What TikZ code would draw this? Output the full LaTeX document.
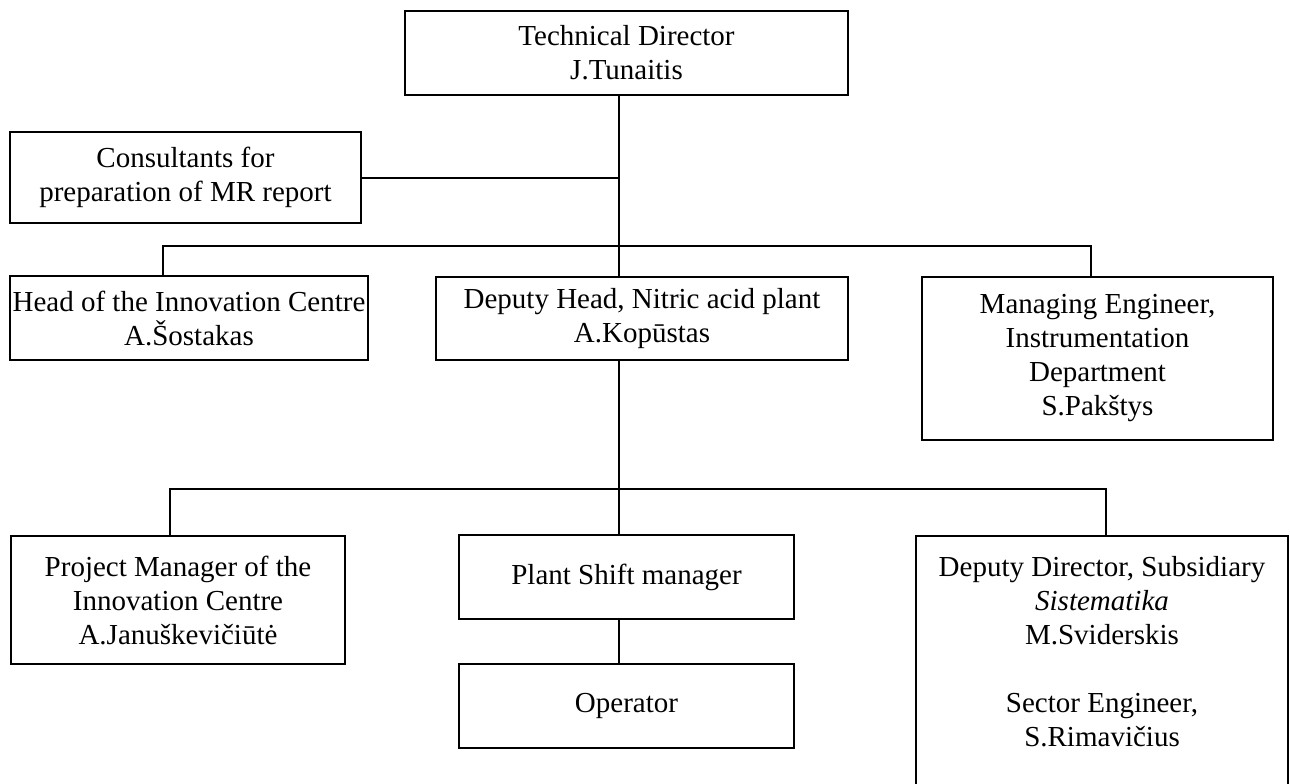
\documentclass[tikz,border=0pt]{standalone}
\usepackage{fontspec}
\setmainfont{Liberation Serif}
\usetikzlibrary{positioning}
\tikzset{
	box/.style={draw, line width=0.8pt, fill=white, align=center, inner sep=0pt,
		font=\fontsize{11.6}{13.6}\selectfont},
	link/.style={line width=0.8pt}
}
\begin{document}
\begin{tikzpicture}[x=0.4pt, y=-0.4pt]
	\useasboundingbox (0,0) rectangle (1290,783);
	\def\trunk{619};
	\def\busa{246};
	\def\busb{489};
	
	\node[box, minimum width=177.2pt, minimum height=33.6pt] (td) at (626.5,53) {Technical Director\\J.Tunaitis};
	\node[box, minimum width=140.4pt, minimum height=36.4pt] (cons) at (185.5,177.5) {Consultants for\\preparation of MR report};
	\node[box, minimum width=143.2pt, minimum height=33.6pt] (head) at (189,318) {Head of the Innovation Centre\\A.Šostakas};
	\node[box, minimum width=164.8pt, minimum height=33.2pt] (dep) at (642,318.5) {Deputy Head, Nitric acid plant\\A.Kopūstas};
	\node[box, minimum width=140.4pt, minimum height=65.2pt] (man) at (1097.5,358.5) {Managing Engineer,\\Instrumentation\\Department\\S.Pakštys};
	\node[box, minimum width=133.6pt, minimum height=51.2pt] (proj) at (178,600) {Project Manager of the\\Innovation Centre\\A.Januškevičiūtė};
	\node[box, minimum width=134pt, minimum height=33.6pt] (shift) at (626.5,577) {Plant Shift manager};
	\node[box, minimum width=134pt, minimum height=33.6pt] (oper) at (626.5,706) {Operator};
	\node[box, minimum width=148.8pt, minimum height=105.6pt] (dd) at (1102,668) {};
	\node[align=center, inner sep=0pt, font=\fontsize{11.6}{13.6}\selectfont] (ddtext) at (1102,652)
		{Deputy Director, Subsidiary\\\textit{Sistematika}\\M.Sviderskis\\[13.6pt]Sector Engineer,\\S.Rimavičius};
	
	% trunk
	\draw[link] (td.south -| \trunk,0) -- (dep.north -| \trunk,0);
	\draw[link] (dep.south -| \trunk,0) -- (shift.north -| \trunk,0);
	\draw[link] (shift.south -| \trunk,0) -- (oper.north -| \trunk,0);
	\draw[link] (cons.east) -- (cons.east -| \trunk,0);
	
	% upper bus
	\coordinate (ua) at (163,\busa);
	\coordinate (ub) at (1091,\busa);
	\draw[link] (head.north -| ua) -- (ua) -- (ub) -- (man.north -| ub);
	
	% lower bus
	\coordinate (la) at (170,\busb);
	\coordinate (lb) at (1106,\busb);
	\draw[link] (proj.north -| la) -- (la) -- (lb) -- (dd.north -| lb);
\end{tikzpicture}
\end{document}
